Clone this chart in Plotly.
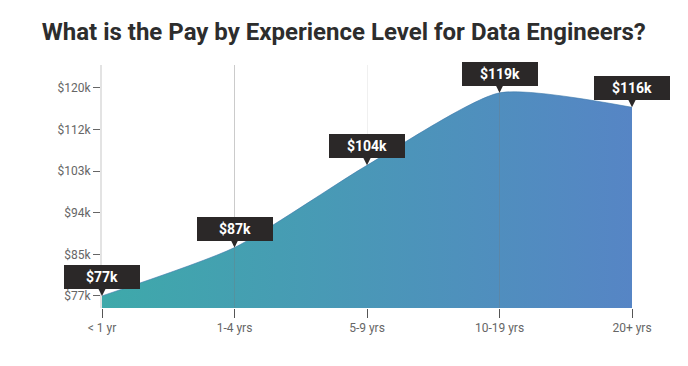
import plotly.graph_objects as go

categories = ["< 1 yr", "1-4 yrs", "5-9 yrs", "10-19 yrs", "20+ yrs"]
pay_k = [77, 87, 104, 119, 116]
value_labels = ["$77k", "$87k", "$104k", "$119k", "$116k"]
tick_values = [77, 85.6, 94.2, 102.8, 111.4, 120]
tick_labels = ["$77k", "$85k", "$94k", "$103k", "$112k", "$120k"]

fig = go.Figure()
fig.add_trace(go.Scatter(
    x=list(range(len(categories))), y=pay_k,
    mode="lines",
    line=dict(shape="spline", smoothing=0.6, width=1, color="rgba(60,120,170,0.6)"),
    fill="tozeroy",
    fillgradient=dict(type="horizontal",
                      colorscale=[[0, "#3ea9aa"], [1, "#5685c5"]]),
    hoverinfo="skip",
))

for i, (v, t) in enumerate(zip(pay_k, value_labels)):
    fig.add_annotation(
        x=i, y=v, text="<b>" + t + "</b>", showarrow=True,
        ax=0, ay=-19, axref="pixel", ayref="pixel",
        arrowhead=2, arrowsize=1, arrowwidth=1.8, arrowcolor="#2b2828",
        standoff=0,
        bgcolor="#2b2828", bordercolor="#2b2828", borderpad=3,
        width=68, height=16,
        font=dict(family="Roboto", size=14, color="white"),
    )

# darker vertical guide lines at two categories
for i in (1, 3):
    fig.add_shape(type="line", xref="x", yref="paper", x0=i, x1=i, y0=0, y1=1,
                  line=dict(color="rgba(120,120,120,0.3)", width=1), layer="above")

# page body has an 8px margin, so margins are offset to land on the reference positions
fig.update_layout(
    width=688, height=366,
    margin=dict(l=94, r=64, t=57, b=66),
    paper_bgcolor="white", plot_bgcolor="white",
    showlegend=False,
    title=dict(text="<b>What is the Pay by Experience Level for Data Engineers?</b>",
               x=0.488, xanchor="center", y=0.936, yanchor="middle",
               font=dict(family="Roboto", size=24, color="#2d2d2d")),
    font=dict(family="Roboto", color="#666"),
)
fig.update_xaxes(
    tickmode="array", tickvals=list(range(len(categories))), ticktext=categories,
    range=[0, len(categories) - 1],
    showgrid=True, gridcolor="#f0f0f0", gridwidth=1,
    ticks="outside", ticklen=9, tickcolor="#555", tickwidth=1,
    tickfont=dict(family="Roboto", size=12, color="#666"),
    showline=False, zeroline=False,
)
fig.update_yaxes(
    tickmode="array", tickvals=tick_values, ticktext=tick_labels,
    range=[74.5, 124.75],
    showgrid=False, zeroline=False,
    showline=True, linecolor="#e3e3e3", linewidth=2,
    ticks="outside", ticklen=7, tickcolor="#666", tickwidth=1,
    tickfont=dict(family="Roboto", size=12, color="#666"),
)

fig.write_html("out.html")
